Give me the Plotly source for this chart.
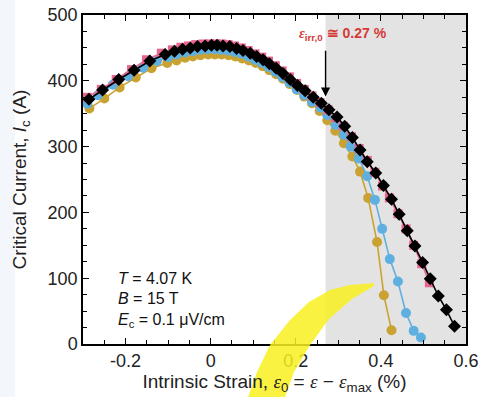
import plotly.graph_objects as go

# ---- data ----
black_x = [-0.286,-0.254,-0.216,-0.18,-0.143,-0.107,-0.085,-0.066,-0.048,-0.031,-0.013,0.002,0.015,0.029,0.045,0.061,0.076,0.093,0.108,0.123,0.138,0.154,0.17,0.187,0.204,0.222,0.241,0.26,0.278,0.297,0.315,0.333,0.351,0.368,0.388,0.406,0.425,0.443,0.462,0.48,0.498,0.516,0.535,0.554,0.573]
black_y = [372,386,402,416,430,440,445,448,450,452,453,454,454,453,452,449,446,442,437,432,426,419,411,402,393,385,375,366,356,345,331,314,295,277,260,241,220,197,172,149,124,99,73,52,27]

pink_x = [-0.29,-0.257,-0.222,-0.186,-0.151,-0.116,-0.09,-0.07,-0.052,-0.035,-0.018,-0.002,0.012,0.026,0.041,0.056,0.072,0.088,0.104,0.12,0.136,0.152,0.168,0.185,0.202,0.22,0.238,0.257,0.276,0.294,0.312,0.331,0.349,0.368,0.386,0.404,0.42,0.44,0.459,0.477,0.496,0.514]
pink_y = [375,387,402,417,432,442,447,451,453,455,456,456,456,456,455,453,450,446,441,436,430,423,415,406,396,387,377,367,356,344,331,315,297,279,261,240,222,198,175,150,122,93]

blue_x = [-0.29,-0.265,-0.23,-0.194,-0.159,-0.126,-0.1,-0.08,-0.06,-0.042,-0.025,-0.008,0.008,0.024,0.04,0.056,0.072,0.088,0.104,0.12,0.136,0.152,0.168,0.185,0.202,0.22,0.238,0.258,0.274,0.294,0.313,0.329,0.348,0.368,0.386,0.403,0.421,0.44,0.459,0.477,0.494]
blue_y = [365,378,394,407,420,430,436,440,443,445,447,448,448,447,446,444,441,437,432,427,421,414,406,397,387,378,368,359,348,333,318,300,282,255,219,175,129,95,47,20,10]

gold_x = [-0.285,-0.25,-0.214,-0.176,-0.139,-0.102,-0.08,-0.06,-0.042,-0.024,-0.006,0.01,0.026,0.042,0.058,0.074,0.09,0.106,0.122,0.138,0.154,0.17,0.186,0.203,0.22,0.238,0.256,0.274,0.293,0.313,0.333,0.351,0.37,0.391,0.407,0.425]
gold_y = [358,373,390,405,419,427,431,435,437,439,440,440,440,439,437,434,431,427,422,416,410,403,395,386,376,366,354,340,324,305,285,262,222,155,74,21]

eps_irr = 0.27
x_ticks = [-0.2, 0, 0.2, 0.4, 0.6]
x_tick_labels = ["-0.2", "0", "0.2", "0.4", "0.6"]
y_ticks = [0, 100, 200, 300, 400, 500]

GOLD = "#c9a232"
BLUE = "#5fb0e0"
PINK = "#e8658f"
BLACK = "#000000"
RED = "#d63a36"
SANS = "Liberation Sans, Arial"
EPS = "<span style=\"font-family:'Liberation Serif'\"><i>ε</i></span>"

fig = go.Figure()

def add(xs, ys, color, symbol, size):
    fig.add_trace(go.Scatter(
        x=xs, y=ys, mode="lines+markers",
        line=dict(color=color, width=1.6),
        marker=dict(color=color, symbol=symbol, size=size, line=dict(width=0)),
        showlegend=False, hoverinfo="skip"))

add(gold_x, gold_y, GOLD, "circle", 10)
add(blue_x, blue_y, BLUE, "circle", 10)
add(pink_x, pink_y, PINK, "square", 9)
add(black_x, black_y, BLACK, "diamond", 10)

# shaded irreversible region
fig.add_shape(type="rect", xref="x", yref="y", x0=eps_irr, x1=0.6, y0=0, y1=500,
              fillcolor="#e3e3e3", line=dict(width=0), layer="below")

# faint blue strip at the left edge of the picture
fig.add_shape(type="rect", xref="paper", yref="paper",
              x0=-83/383, x1=-68/383, y0=-53/329, y1=344/329,
              fillcolor="#f3f7fc", line=dict(width=0), layer="below")

# yellow highlighter swoosh (decoration in the picture)
def P(px, py):
    return f"{(px-83)/383:.4f},{(344-py)/329:.4f}"
outer = [(247,400),(257,372),(270,345),(290,320),(309,302),(330,290),(350,285),(374,283)]
inner = [(374,286),(352,299),(329,319),(310,345),(294,372),(284,400)]
path = "M " + " L ".join(P(*p) for p in outer + inner) + " Z"
fig.add_shape(type="path", xref="paper", yref="paper", path=path,
              fillcolor="#f8f020", opacity=0.85, line=dict(width=0), layer="above")

# arrow at eps_irr
fig.add_annotation(x=eps_irr, y=376, ax=eps_irr, ay=448, xref="x", yref="y",
                   axref="x", ayref="y", text="", showarrow=True,
                   arrowhead=2, arrowsize=1.3, arrowwidth=1.4, arrowcolor=BLACK)
fig.add_annotation(x=0.31, y=471, xref="x", yref="y", showarrow=False,
                   text=EPS + "<sub>irr,0</sub> ≅ 0.27 %",
                   font=dict(family=SANS, size=14, color=RED, weight="bold"))

# conditions text
for txt, yv in [("<i>T</i> = 4.07 K", 100), ("<i>B</i> = 15 T", 69),
                ("<i>E</i><sub>c</sub> = 0.1 μV/cm", 35)]:
    fig.add_annotation(x=-0.222, y=yv, xref="x", yref="y", showarrow=False,
                       xanchor="left", text=txt,
                       font=dict(family=SANS, size=16, color="#111"))

axis_common = dict(showline=True, linecolor="black", linewidth=1.5, mirror="ticks",
                   ticks="inside", ticklen=6, tickwidth=1.2, tickcolor="black",
                   showgrid=False, zeroline=False, automargin=False,
                   tickfont=dict(family=SANS, size=18, color="#222"))

fig.update_xaxes(range=[-0.3, 0.6], tickvals=x_ticks, ticktext=x_tick_labels,
                 minor=dict(dtick=0.05, ticks="inside", ticklen=4, tickcolor="black", tickwidth=1),
                 title=dict(text="Intrinsic Strain, " + EPS + "<sub>0</sub> = " + EPS + " − " + EPS + "<sub>max</sub> (%)",
                            font=dict(family=SANS, size=19, color="#222"),
                            standoff=4),
                 **axis_common)
fig.update_yaxes(range=[0, 500], tickvals=y_ticks,
                 minor=dict(dtick=25, ticks="inside", ticklen=4, tickcolor="black", tickwidth=1),
                 title=dict(text="Critical Current, <i>I</i><sub>c</sub> (A)",
                            font=dict(family=SANS, size=19, color="#222"),
                            standoff=16),
                 **axis_common)

fig.update_layout(width=487, height=397, margin=dict(l=83, r=21, t=15, b=53),
                  paper_bgcolor="white", plot_bgcolor="white")

fig.write_html("out.html")
